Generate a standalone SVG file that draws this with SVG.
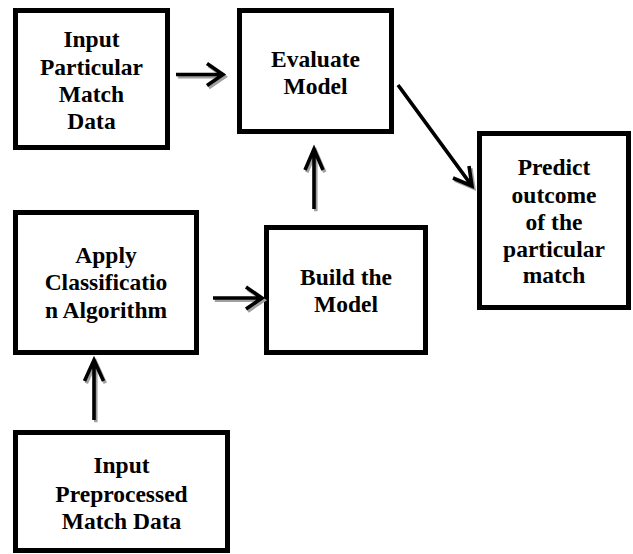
<svg xmlns="http://www.w3.org/2000/svg" xmlns:xlink="http://www.w3.org/1999/xlink" width="633" height="554" viewBox="0 0 633 554">
  <style>
    .box { fill: #ffffff; stroke: #000000; stroke-width: 5; }
    .lbl { font-weight: bold; font-size: 23.5px; fill: #000000; text-anchor: middle; }
    .arrow { fill: none; stroke: #000000; stroke-width: 3.6; stroke-linejoin: miter; }
    .shadow { fill: none; stroke: #a0a0a0; stroke-width: 3.6; stroke-linejoin: miter; }
  </style>
  <defs>
    <!-- arrow shapes, drawn once as shadow and once in black -->
    <path id="a1" d="M176 74.5 H223 M207 63.5 L223 74.5 L207 85.5"/>
    <path id="a2" d="M398 85 L472 186 M469 166 L472 186 L453 178"/>
    <path id="a3" d="M314 209 V149 M305 170 L314 149 L323 170"/>
    <path id="a4" d="M213 298 H262 M246 287 L262 298 L246 309"/>
    <path id="a5" d="M94 420 V360 M84.5 381 L94 360 L103.5 381"/>
  </defs>

  <g id="nodes" font-family="Liberation Serif, serif">
    <g id="input-particular">
      <rect class="box" x="15.5" y="10.5" width="152" height="137"/>
      <text class="lbl" x="91.5" y="47">Input</text>
      <text class="lbl" x="91.5" y="75">Particular</text>
      <text class="lbl" x="91.5" y="102">Match</text>
      <text class="lbl" x="91.5" y="129">Data</text>
    </g>
    <g id="evaluate">
      <rect class="box" x="239.5" y="10.5" width="152" height="121"/>
      <text class="lbl" x="315.5" y="67">Evaluate</text>
      <text class="lbl" x="315.5" y="94">Model</text>
    </g>
    <g id="predict">
      <rect class="box" x="479.5" y="133.5" width="149" height="174"/>
      <text class="lbl" x="554" y="175">Predict</text>
      <text class="lbl" x="554" y="203">outcome</text>
      <text class="lbl" x="554" y="230">of the</text>
      <text class="lbl" x="554" y="257">particular</text>
      <text class="lbl" x="554" y="283">match</text>
    </g>
    <g id="apply">
      <rect class="box" x="15.5" y="212.5" width="181" height="140"/>
      <text class="lbl" x="106" y="263">Apply</text>
      <text class="lbl" x="106" y="290">Classificatio</text>
      <text class="lbl" x="106" y="318">n Algorithm</text>
    </g>
    <g id="build">
      <rect class="box" x="266.5" y="227.5" width="159" height="125"/>
      <text class="lbl" x="346" y="285">Build the</text>
      <text class="lbl" x="346" y="312">Model</text>
    </g>
    <g id="input-preprocessed">
      <rect class="box" x="15.5" y="432.5" width="212" height="118"/>
      <text class="lbl" x="121.5" y="473">Input</text>
      <text class="lbl" x="121.5" y="502">Preprocessed</text>
      <text class="lbl" x="121.5" y="529">Match Data</text>
    </g>
  </g>

  <g id="connectors">
    <g class="shadow" transform="translate(1.8,2.2)">
      <use xlink:href="#a1"/>
      <use xlink:href="#a2"/>
      <use xlink:href="#a3"/>
      <use xlink:href="#a4"/>
      <use xlink:href="#a5"/>
    </g>
    <g class="arrow">
      <use xlink:href="#a1"/>
      <use xlink:href="#a2"/>
      <use xlink:href="#a3"/>
      <use xlink:href="#a4"/>
      <use xlink:href="#a5"/>
    </g>
  </g>
</svg>
